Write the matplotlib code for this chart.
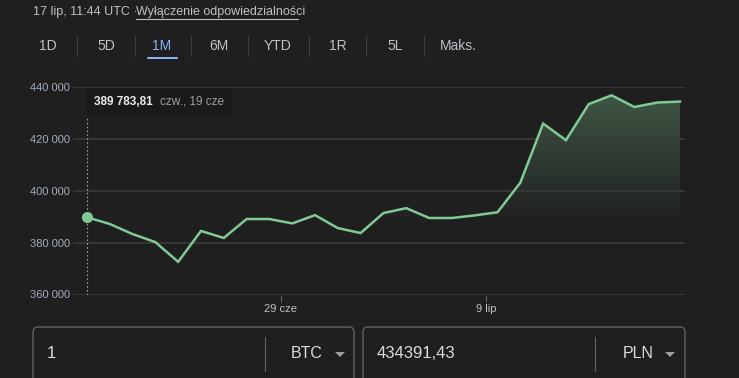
import matplotlib
matplotlib.use("Agg")
import matplotlib.pyplot as plt
import numpy as np
from matplotlib.patches import FancyBboxPatch, Rectangle
from matplotlib.colors import LinearSegmentedColormap

plt.rcParams['font.family'] = ['Liberation Sans', 'DejaVu Sans']

# BTC -> PLN, last month
prices = [389784, 387200, 383300, 380200, 372600, 384500, 381800, 389100, 389100,
          387400, 390600, 385600, 383700, 391400, 393300, 389500, 389500, 390500,
          391700, 403100, 425900, 419500, 433400, 436800, 432300, 434000, 434391]
yticks = [360000, 380000, 400000, 420000, 440000]
xtick_pos = [8.5, 17.5]
xtick_labels = ['29 cze', '9 lip']
ranges = ['1D', '5D', '1M', '6M', 'YTD', '1R', '5L', 'Maks.']
active_range = '1M'

BG = '#1f1f1f'
GREEN = '#81c995'
GRID = '#3a3a3a'
TXT = '#bdc1c6'

fig = plt.figure(figsize=(7.39, 3.78), dpi=100, facecolor=BG)

# overlay in pixel coords for the page furniture
ui = fig.add_axes([0, 0, 1, 1])
ui.set_xlim(0, 739)
ui.set_ylim(378, 0)
ui.axis('off')
ui.set_facecolor(BG)

ui.text(33, 12, '17 lip, 11:44 UTC · ', color=TXT, fontsize=9, va='center')
ui.text(136, 12, 'Wyłączenie odpowiedzialności', color=TXT, fontsize=9, va='center')
ui.plot([136, 298], [19, 19], color=TXT, lw=0.8)

btn_x = [48, 106, 162, 219, 278, 338, 395, 458]
for name, x in zip(ranges, btn_x):
    c = '#8ab4f8' if name == active_range else TXT
    ui.text(x, 46, name, color=c, fontsize=10, ha='center', va='center')
for sx in [77, 135, 191, 248, 309, 366, 424]:
    ui.plot([sx, sx], [36, 56], color='#3c4043', lw=0.8)
ui.add_patch(FancyBboxPatch((147, 57), 31, 2, boxstyle='round,pad=0,rounding_size=1',
                            color='#8ab4f8', lw=0))

# converter boxes at the bottom
for x0, x1, val, cur, sep, cx, tri in [(33, 354, '1', 'BTC', 265, 307, 340),
                                        (363, 685, '434391,43', 'PLN', 595, 638, 670)]:
    ui.add_patch(FancyBboxPatch((x0, 327), x1 - x0, 70, boxstyle='round,pad=0,rounding_size=5',
                                fc='none', ec='#5f6368', lw=1))
    ui.text(x0 + 14, 354, val, color='#dadce0', fontsize=12, va='center')
    ui.plot([sep, sep], [337, 371], color='#5f6368', lw=0.8)
    ui.text(cx, 354, cur, color='#dadce0', fontsize=11.5, ha='center', va='center')
    ui.fill([tri - 5, tri + 5, tri], [352, 352, 357], color='#9aa0a6', lw=0)

# the chart
ax = fig.add_axes([73 / 739, 1 - 294.5 / 378, (685 - 73) / 739, (294.5 - 87) / 378])
ax.set_facecolor('none')
x = np.arange(len(prices))
ax.set_xlim(-0.61, 26.22)
ax.set_ylim(360000, 440000)

# gradient under the line, clipped to the area below the curve
alpha_map = LinearSegmentedColormap.from_list('g', [(0.506, 0.788, 0.584, 0.0),
                                                    (0.506, 0.788, 0.584, 0.32)],
                                              N=256)
grad = np.linspace(1, 0, 200).reshape(-1, 1)
grad = np.clip((grad - 0.33) / 0.62, 0, 1)
im = ax.imshow(grad, aspect='auto', cmap=alpha_map, vmin=0, vmax=1,
               extent=[x[0], x[-1], 360000, 440000], origin='upper', zorder=1)
poly = ax.fill_between(x, prices, 360000, color='none', lw=0)
im.set_clip_path(poly.get_paths()[0], transform=ax.transData)

ax.plot(x, prices, color=GREEN, lw=1.8, zorder=3, solid_joinstyle='miter')
ax.plot([x[0]], [prices[0]], 'o', color=GREEN, ms=7, zorder=4)
ax.plot([x[0], x[0]], [360000, 428500], color='#9aa0a6', lw=0.8, ls=(0, (1.5, 2)), zorder=2)

ax.set_yticks(yticks)
ax.set_yticklabels([f'{v // 1000} 000' for v in yticks])
ax.set_xticks(xtick_pos)
ax.set_xticklabels(xtick_labels)
ax.grid(axis='y', color=GRID, lw=1.2)
ax.tick_params(axis='y', length=0, pad=2, labelsize=8, labelcolor='#a3adbb')
ax.tick_params(axis='x', length=5, width=0.8, color='#5f6368', pad=2, labelsize=8,
               labelcolor=TXT)
for s in ax.spines.values():
    s.set_visible(False)

# tooltip
ax.add_patch(Rectangle((-0.05, 429000), 6.4, 10500, fc='#1a1a1a', ec='none', zorder=5))
ax.text(0.3, 434300, '389 783,81', color='#e8eaed', fontsize=8.5, fontweight='bold',
        va='center', zorder=6)
ax.text(3.2, 434300, 'czw., 19 cze', color='#9aa0a6', fontsize=8.5, va='center', zorder=6)

fig.savefig('out.png', dpi=100, facecolor=BG)
